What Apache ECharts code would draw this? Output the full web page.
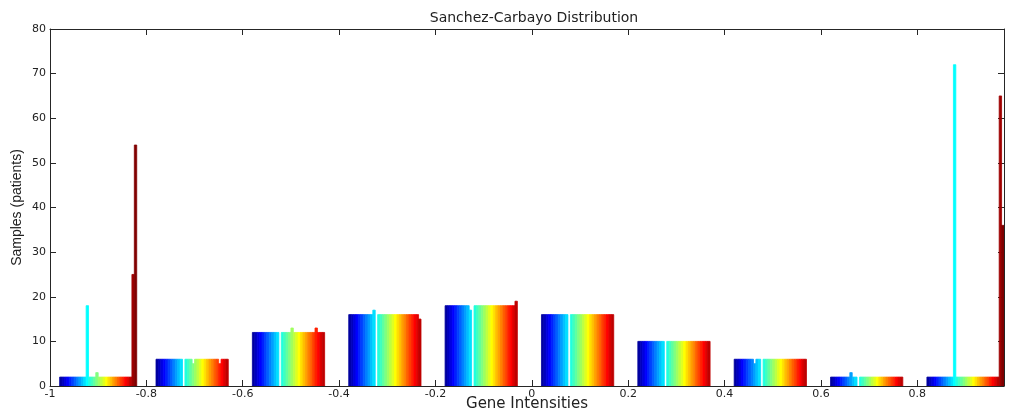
<!DOCTYPE html>
<html>
<head>
<meta charset="utf-8">
<title>Sanchez-Carbayo Distribution</title>
<script src="https://cdn.jsdelivr.net/npm/echarts@6/dist/echarts.min.js"></script>
<style>
  html, body { margin: 0; padding: 0; background: #fff; }
  #chart { width: 1010px; height: 415px; }
</style>
</head>
<body>
<div id="chart"></div>
<script>
// Histogram bin centres (gene intensity) and the number of samples per bin,
// one value per gene (32 genes, coloured with the jet colormap).
const binCenters = [-0.9, -0.7, -0.5, -0.3, -0.1, 0.1, 0.3, 0.5, 0.7, 0.9];

const binM09 = [2,2,2,2,2,2,2,2,2,2,2,18,2,2,2,3,2,2,2,2,2,2,2,2,2,2,2,2,2,2,25,54];
const binM07 = [6,6,6,6,6,6,6,6,6,6,6,0,6,6,6,5,6,6,6,6,6,6,6,6,6,6,5,6,6,6,0,0];
const binM05 = [12,12,12,12,12,12,12,12,12,12,12,0,12,12,12,12,13,12,12,12,12,12,12,12,12,12,13,12,12,12,0,0];
const binM03 = [16,16,16,16,16,16,16,16,16,16,17,0,16,16,16,16,16,16,16,16,16,16,16,16,16,16,16,16,16,15,0,0];
const binM01 = [18,18,18,18,18,18,18,18,18,18,17,0,18,18,18,18,18,18,18,18,18,18,18,18,18,18,18,18,18,19,0,0];
const binP01 = [16,16,16,16,16,16,16,16,16,16,16,0,16,16,16,16,16,16,16,16,16,16,16,16,16,16,16,16,16,16,0,0];
const binP03 = [10,10,10,10,10,10,10,10,10,10,10,0,10,10,10,10,10,10,10,10,10,10,10,10,10,10,10,10,10,10,0,0];
const binP05 = [6,6,6,6,6,6,6,6,5,6,6,0,6,6,6,6,6,6,6,6,6,6,6,6,6,6,6,6,6,6,0,0];
const binP07 = [2,2,2,2,2,2,2,2,3,2,2,0,2,2,2,2,2,2,2,2,2,2,2,2,2,2,2,2,2,2,0,0];
const binP09 = [2,2,2,2,2,2,2,2,2,2,2,72,2,2,2,2,2,2,2,2,2,2,2,2,2,2,2,2,2,2,65,36];

const binCounts = [binM09, binM07, binM05, binM03, binM01, binP01, binP03, binP05, binP07, binP09];

const xTicks = [-1, -0.8, -0.6, -0.4, -0.2, 0, 0.2, 0.4, 0.6, 0.8];
const yTicks = [0, 10, 20, 30, 40, 50, 60, 70, 80];

// MATLAB-style jet colormap with m entries
function jet(m) {
  const n = Math.ceil(m / 4);
  const u = [];
  for (let k = 1; k <= n; k++) u.push(k / n);
  for (let k = 1; k < n; k++) u.push(1);
  for (let k = n; k >= 1; k--) u.push(k / n);
  const off = Math.ceil(n / 2) - (m % 4 === 1 ? 1 : 0);
  const cols = Array.from({ length: m }, () => [0, 0, 0]);
  u.forEach((v, j) => {
    const g = off + j + 1, r = g + n, b = g - n;
    if (g >= 1 && g <= m) cols[g - 1][1] = v;
    if (r >= 1 && r <= m) cols[r - 1][0] = v;
    if (b >= 1 && b <= m) cols[b - 1][2] = v;
  });
  return cols.map(c => 'rgb(' + c.map(x => Math.round(x * 255)).join(',') + ')');
}

const nGenes = binM09.length;
const colors = jet(nGenes);
const binWidth = 0.2;
const groupWidth = 0.8 * binWidth;
const barWidth = groupWidth / nGenes;

const data = [];
binCounts.forEach((arr, b) => {
  arr.forEach((v, g) => { data.push([b, g, v]); });
});

const wideFont = '"DejaVu Sans", Verdana, sans-serif';
const narrowFont = '"Liberation Sans", Arial, Helvetica, sans-serif';
const axisColor = '#262626';
const textColor = '#222';
const tickLabel = v => {
  for (const t of xTicks) if (Math.abs(v - t) < 1e-6) return String(t);
  return '';
};
const frameAxis = {
  axisLine: { show: true, onZero: false, lineStyle: { color: axisColor, width: 1 } },
  axisTick: { show: true, inside: true, length: 6, lineStyle: { color: axisColor } },
  splitLine: { show: false }
};

const chart = echarts.init(document.getElementById('chart'), null, { renderer: 'canvas' });
chart.setOption({
  animation: false,
  backgroundColor: '#fff',
  title: {
    text: 'Sanchez-Carbayo Distribution',
    left: 529, top: 6, textAlign: 'center',
    textStyle: { fontFamily: wideFont, fontSize: 14, fontWeight: 'normal', color: textColor }
  },
  grid: { left: 50, right: 6, top: 29, bottom: 29, containLabel: false, outerBoundsMode: 'none' },
  xAxis: [Object.assign({
    type: 'value', min: -1, max: 0.98, interval: 0.2, position: 'bottom',
    name: 'Gene Intensities', nameLocation: 'middle', nameGap: 11, nameMoveOverlap: false,
    nameTextStyle: { fontFamily: wideFont, fontSize: 15, color: textColor },
    axisLabel: { formatter: tickLabel, fontFamily: wideFont, fontSize: 11, color: textColor, margin: 3, showMaxLabel: false }
  }, frameAxis), Object.assign({
    type: 'value', min: -1, max: 0.98, interval: 0.2, position: 'top',
    axisLabel: { show: false }
  }, frameAxis)],
  yAxis: [Object.assign({
    type: 'value', min: 0, max: 80, interval: 10, position: 'left',
    name: 'Samples (patients)', nameLocation: 'middle', nameGap: 26, nameRotate: 90, nameMoveOverlap: false,
    nameTextStyle: { fontFamily: narrowFont, fontSize: 14, color: textColor },
    axisLabel: { fontFamily: wideFont, fontSize: 11, color: textColor, margin: 4 }
  }, frameAxis), Object.assign({
    type: 'value', min: 0, max: 80, interval: 10, position: 'right',
    axisLabel: { show: false }
  }, frameAxis)],
  series: [{
    type: 'custom',
    xAxisIndex: 0, yAxisIndex: 0,
    data: data,
    clip: true,
    renderItem: function (params, api) {
      const b = api.value(0), g = api.value(1), v = api.value(2);
      if (!v) return null;
      const x0 = binCenters[b] - groupWidth / 2 + g * barWidth;
      const p0 = api.coord([x0, v]);
      const p1 = api.coord([x0 + barWidth, 0]);
      return {
        type: 'rect',
        shape: { x: p0[0], y: p0[1], width: p1[0] - p0[0], height: p1[1] - p0[1] },
        style: { fill: colors[g], stroke: colors[g], lineWidth: 0.8 }
      };
    }
  }]
});
</script>
</body>
</html>
